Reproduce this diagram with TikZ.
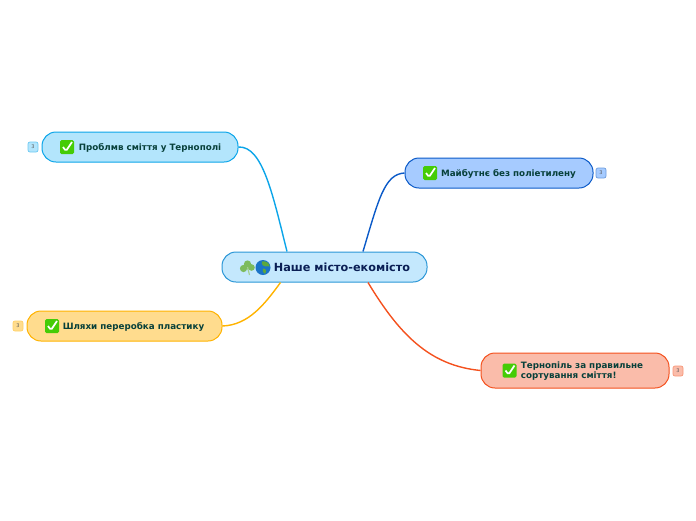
\documentclass[tikz,border=0pt]{standalone}
\usepackage{fontspec}
\setmainfont{DejaVu Sans}
\usetikzlibrary{calc}
\definecolor{rootfill}{HTML}{C4E8FD}
\definecolor{rootline}{HTML}{2A96D6}
\definecolor{rootink}{HTML}{0A1F55}
\definecolor{leafink}{HTML}{07403A}
\definecolor{skyfill}{HTML}{B3E5FC}
\definecolor{skyline}{HTML}{0BA5E9}
\definecolor{bluefill}{HTML}{A6CBFF}
\definecolor{blueline}{HTML}{0B5AC8}
\definecolor{amberfill}{HTML}{FFDC8E}
\definecolor{amberline}{HTML}{FFB300}
\definecolor{coralfill}{HTML}{FABCAA}
\definecolor{coralline}{HTML}{F4511E}
\definecolor{tickgreen}{HTML}{45CC06}
\definecolor{cloverleaf}{HTML}{7DBB5C}
\definecolor{seablue}{HTML}{1A74C8}
\definecolor{landgreen}{HTML}{5DA83C}
\newcommand{\sitlow}[2]{\smash{\raisebox{#1}{#2}}}
\tikzset{
    topic/.style={draw, line width=1pt, rounded corners=14pt, minimum height=30pt, inner sep=0pt, text=leafink, font=\bfseries\fontsize{8.75}{10.5}\selectfont, align=left},
    badge/.style={draw, line width=0.7pt, rounded corners=2pt, minimum size=10pt, inner sep=0pt, text=black!65, font=\fontsize{5}{5}\selectfont},
    tickbox/.style={rectangle, rounded corners=1.5pt, minimum size=14pt, inner sep=0pt, fill=tickgreen, path picture={
        \draw[white, line width=1.7pt] ($(path picture bounding box.center)+(-4,0)$) -- ($(path picture bounding box.center)+(-1,-4)$) -- ($(path picture bounding box.center)+(5,5)$);}},
    link/.style={line width=1.4pt}
}
\begin{document}
\begin{tikzpicture}[x=1pt, y=1pt]
    \useasboundingbox (0,0) rectangle (696,-520);

    % Central topic
    \node[topic, fill=rootfill, draw=rootline, text=rootink, minimum width=205pt, font=\bfseries\fontsize{11.25}{13}\selectfont] (root) at (324.5,-267) {\hspace*{35pt}Наше місто-екомісто};

    % Four branches
    \node[topic, fill=skyfill, draw=skyline, minimum width=196pt] (probl) at (140,-147) {\hspace*{20pt}\sitlow{-3pt}{Проблмв сміття у Тернополі}};
    \node[topic, fill=bluefill, draw=blueline, minimum width=188pt] (future) at (499,-173) {\hspace*{19pt}\sitlow{-3.2pt}{Майбутнє без поліетилену}};
    \node[topic, fill=amberfill, draw=amberline, minimum width=195pt] (paths) at (124.5,-326) {\hspace*{18pt}\sitlow{-3.2pt}{Шляхи переробка пластику}};
    \node[topic, fill=coralfill, draw=coralline, minimum width=188pt, minimum height=35pt] (sort) at (575,-370.5) {\hspace*{14pt}\sitlow{-3pt}{\begin{tabular}{@{}l@{}}Тернопіль за правильне\\сортування сміття!\end{tabular}}};

    % Tick icons
    \node[tickbox] (tickprobl) at ($(probl.center)+(-73,0)$) {};
    \node[tickbox] (tickfuture) at ($(future.center)+(-69,0)$) {};
    \node[tickbox] (tickpaths) at ($(paths.center)+(-72.5,0)$) {};
    \node[tickbox] (ticksort) at ($(sort.center)+(-65.5,0)$) {};

    % Counters
    \node[badge, fill=skyfill, draw=skyline!60] (cntprobl) at (33,-147) {3};
    \node[badge, fill=bluefill, draw=blueline!60] (cntfuture) at (601,-173) {3};
    \node[badge, fill=amberfill, draw=amberline!60] (cntpaths) at (18,-326) {3};
    \node[badge, fill=coralfill, draw=coralline!60] (cntsort) at (678,-371) {3};

    % Clover and globe
    \begin{scope}[shift={(247.5,-268)}]
        \fill[cloverleaf] (0,4) circle (3.6) (-4,-0.5) circle (3.6) (4,0.5) circle (3.3) (0,1) circle (2.5);
        \draw[cloverleaf!70!white, line width=1.2pt] (0,1) -- (2,-7);
    \end{scope}
    \begin{scope}[shift={(263,-267.5)}]
        \fill[seablue] (0,0) circle (7.5);
        \fill[landgreen] (-1,6) .. controls (3,7) and (7,4) .. (6.5,1) .. controls (3,2) and (1,0) .. (0,2) .. controls (-1,3) and (-2,5) .. (-1,6);
        \fill[landgreen] (0,-1) .. controls (3,-1) and (4,-3) .. (2,-6.5) .. controls (0,-6) and (-1,-3) .. (0,-1);
    \end{scope}

    % Connectors
    \draw[link, skyline] (probl.east) .. controls +(24,1) and ($(root.north)+(-52,58)$) .. ($(root.north)+(-37.5,0)$);
    \draw[link, blueline] (future.west) .. controls +(-20,-1) and ($(root.north)+(54,52)$) .. ($(root.north)+(38.5,0)$);
    \draw[link, amberline] (paths.east) .. controls +(26,1) and ($(root.south)+(-60,-22)$) .. ($(root.south)+(-44,0)$);
    \draw[link, coralline] (sort.west) .. controls +(-51,5) and ($(root.south)+(75,-52)$) .. ($(root.south)+(43.5,0)$);
\end{tikzpicture}
\end{document}
